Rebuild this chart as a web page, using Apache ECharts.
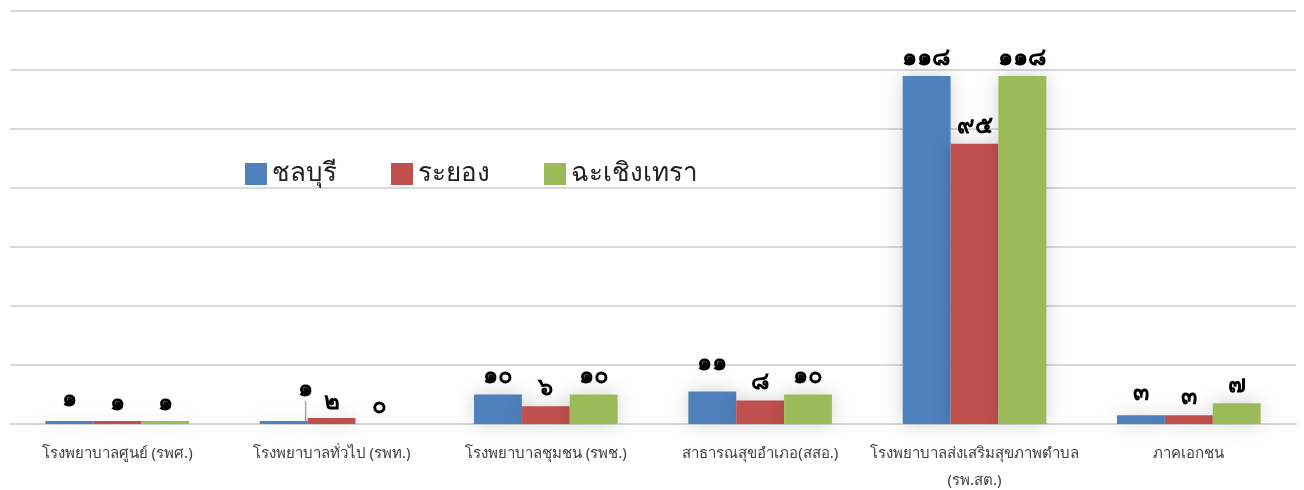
<!DOCTYPE html>
<html>
<head>
<meta charset="utf-8">
<script src="https://cdn.jsdelivr.net/npm/echarts@6/dist/echarts.min.js"></script>
<style>
  html, body { margin: 0; padding: 0; background: #fff; }
  #echartbox { width: 1304px; height: 490px; }
</style>
</head>
<body>
<div id="echartbox"></div>
<script>
// หมวดหมู่และค่าข้อมูล
var categories = [
    'โรงพยาบาลศูนย์ (รพศ.)',
    'โรงพยาบาลทั่วไป (รพท.)',
    'โรงพยาบาลชุมชน (รพช.)',
    'สาธารณสุขอำเภอ(สสอ.)',
    'โรงพยาบาลส่งเสริมสุขภาพตำบล\n(รพ.สต.)',
    'ภาคเอกชน'
];
var seriesNames = ['ชลบุรี', 'ระยอง', 'ฉะเชิงเทรา'];
var chonburi = [1, 1, 10, 11, 118, 3];
var rayong = [1, 2, 6, 8, 95, 3];
var chachoengsao = [1, 0, 10, 10, 118, 7];
var colors = ['#4f81bd', '#c0504d', '#9bbb59'];

var thaiDigits = ['๐', '๑', '๒', '๓', '๔', '๕', '๖', '๗', '๘', '๙'];
function toThai(v) {
    return String(v).replace(/[0-9]/g, function(d) { return thaiDigits[+d]; });
}

// ป้ายที่ถูกเลื่อนตำแหน่งเหมือนในต้นฉบับ  key = series_dataIndex
var labelShift = {
    '0_0': [0, -4],
    '0_1': [22, -14],
    '0_3': [0, -10],
    '1_1': [0, 2],
    '0_5': [0, -4]
};

var myChart = echarts.init(document.getElementById('echartbox'));

function makeSeries(name, values, idx) {
    var data = values.map(function(v, i) {
        if (idx === 0 && i === 1) {
            return { value: v, labelLine: { show: true } };
        }
        return v;
    });
    return {
        name: name,
        type: 'bar',
        data: data,
        barGap: '0%',
        barCategoryGap: '33%',
        itemStyle: {
            color: colors[idx],
            shadowBlur: 20,
            shadowColor: 'rgba(0,0,0,0.18)'
        },
        label: {
            show: true,
            position: 'top',
            distance: 6,
            color: '#000',
            fontSize: 24,
            fontWeight: 'bold',
            fontFamily: 'Noto Sans',
            formatter: function(p) { return toThai(p.value); }
        },
        labelLine: {
            show: false,
            lineStyle: { color: '#a6a6a6', width: 1.5 }
        },
        labelLayout: function(p) {
            var s = labelShift[idx + '_' + p.dataIndex];
            if (s) {
                return { dx: s[0], dy: s[1] };
            }
            return null;
        }
    };
}

var option = {
    animation: false,
    legend: {
        left: 240,
        top: 156,
        itemWidth: 22,
        itemHeight: 22,
        itemGap: 54,
        icon: 'rect',
        textStyle: {
            fontSize: 26,
            color: '#222',
            fontFamily: 'Noto Sans'
        },
        data: seriesNames
    },
    grid: {
        left: 10,
        right: 8,
        top: 11,
        bottom: 66,
        outerBoundsMode: 'none',
        containLabel: false
    },
    xAxis: {
        type: 'category',
        data: categories,
        axisTick: { show: false },
        axisLine: { lineStyle: { color: '#d9d9d9', width: 2 } },
        axisLabel: {
            color: '#404040',
            fontSize: 15,
            fontFamily: 'Noto Sans',
            margin: 16,
            lineHeight: 27,
            interval: 0
        }
    },
    yAxis: {
        type: 'value',
        min: 0,
        max: 140,
        interval: 20,
        axisLabel: { show: false },
        axisLine: { show: false },
        axisTick: { show: false },
        splitLine: { lineStyle: { color: '#d9d9d9', width: 2 } }
    },
    series: [
        makeSeries(seriesNames[0], chonburi, 0),
        makeSeries(seriesNames[1], rayong, 1),
        makeSeries(seriesNames[2], chachoengsao, 2)
    ]
};

myChart.setOption(option);
</script>
</body>
</html>
